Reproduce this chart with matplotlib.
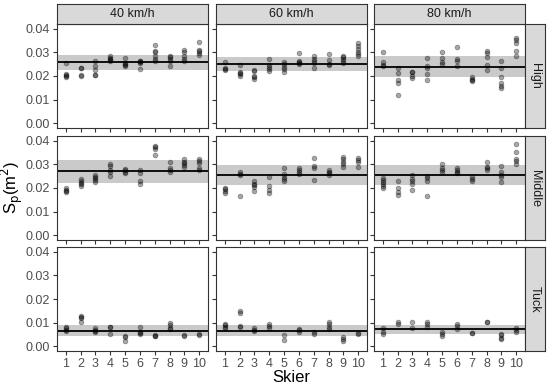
import matplotlib
matplotlib.use("Agg")
import matplotlib.pyplot as plt
import numpy as np

plt.rcParams["font.family"] = ["Liberation Sans", "DejaVu Sans"]

speeds = ["40 km/h", "60 km/h", "80 km/h"]
positions = ["High", "Middle", "Tuck"]
skiers = list(range(1, 11))

# measured S_p per skier, one list per skier, per (position, speed) panel
high_40 = [[0.0256, 0.0208, 0.0203, 0.0199, 0.0195], [0.0234, 0.0232, 0.0204, 0.0199],
           [0.0265, 0.0241, 0.0225, 0.0205, 0.0203], [0.0284, 0.0278, 0.0272, 0.0266, 0.0262],
           [0.0275, 0.0255, 0.0250, 0.0246, 0.0242], [0.0265, 0.0262, 0.0258, 0.0255, 0.0230],
           [0.0333, 0.0306, 0.0303, 0.0283, 0.0273, 0.0265], [0.0285, 0.0280, 0.0274, 0.0265, 0.0243],
           [0.0312, 0.0300, 0.0284, 0.0273, 0.0262], [0.0343, 0.0312, 0.0305, 0.0298, 0.0290]]
high_60 = [[0.0260, 0.0232, 0.0229, 0.0227], [0.0247, 0.0219, 0.0213, 0.0209, 0.0201],
           [0.0225, 0.0223, 0.0201, 0.0196, 0.0188], [0.0271, 0.0247, 0.0237, 0.0230, 0.0223],
           [0.0261, 0.0252, 0.0238, 0.0229, 0.0219], [0.0297, 0.0262, 0.0259, 0.0255, 0.0252],
           [0.0283, 0.0271, 0.0262, 0.0257, 0.0236], [0.0293, 0.0266, 0.0253, 0.0248],
           [0.0287, 0.0280, 0.0271, 0.0264, 0.0257], [0.0342, 0.0328, 0.0314, 0.0304, 0.0294, 0.0286]]
high_80 = [[0.0300, 0.0259, 0.0246, 0.0241], [0.0233, 0.0212, 0.0184, 0.0170, 0.0120],
           [0.0219, 0.0215, 0.0198, 0.0193], [0.0276, 0.0241, 0.0233, 0.0209, 0.0184],
           [0.0304, 0.0276, 0.0258, 0.0252], [0.0322, 0.0272, 0.0265, 0.0244],
           [0.0195, 0.0188, 0.0181, 0.0177], [0.0308, 0.0297, 0.0280, 0.0247, 0.0226],
           [0.0264, 0.0236, 0.0195, 0.0170, 0.0158, 0.0148], [0.0360, 0.0353, 0.0342, 0.0308, 0.0283]]
middle_40 = [[0.0202, 0.0192, 0.0188, 0.0185], [0.0237, 0.0231, 0.0223, 0.0216, 0.0208],
             [0.0256, 0.0247, 0.0242, 0.0233, 0.0226], [0.0301, 0.0293, 0.0276, 0.0266, 0.0249],
             [0.0281, 0.0276, 0.0270, 0.0264], [0.0276, 0.0264, 0.0230, 0.0219],
             [0.0380, 0.0375, 0.0366, 0.0341], [0.0312, 0.0283, 0.0276, 0.0267],
             [0.0322, 0.0312, 0.0305, 0.0297, 0.0290], [0.0322, 0.0315, 0.0308, 0.0283, 0.0277]]
middle_60 = [[0.0202, 0.0195, 0.0188, 0.0178], [0.0270, 0.0261, 0.0254, 0.0164],
             [0.0228, 0.0219, 0.0212, 0.0205, 0.0188], [0.0247, 0.0209, 0.0192, 0.0177],
             [0.0287, 0.0261, 0.0247, 0.0237, 0.0228], [0.0284, 0.0276, 0.0267, 0.0259],
             [0.0326, 0.0294, 0.0287, 0.0235], [0.0277, 0.0270, 0.0263, 0.0256],
             [0.0332, 0.0322, 0.0312, 0.0304, 0.0290], [0.0326, 0.0318, 0.0311, 0.0290]]
middle_80 = [[0.0242, 0.0233, 0.0226, 0.0216, 0.0209, 0.0199], [0.0230, 0.0202, 0.0181, 0.0170],
             [0.0254, 0.0237, 0.0228, 0.0219, 0.0192], [0.0252, 0.0242, 0.0230, 0.0165],
             [0.0304, 0.0284, 0.0276, 0.0266], [0.0284, 0.0277, 0.0270, 0.0264],
             [0.0245, 0.0237, 0.0230], [0.0312, 0.0291, 0.0283, 0.0276],
             [0.0294, 0.0270, 0.0256, 0.0247, 0.0226], [0.0389, 0.0355, 0.0325, 0.0315, 0.0304]]
tuck_40 = [[0.0081, 0.0076, 0.0069, 0.0065], [0.0127, 0.0122, 0.0120, 0.0103],
           [0.0077, 0.0070, 0.0064, 0.0060], [0.0081, 0.0079, 0.0050],
           [0.0043, 0.0037, 0.0022], [0.0081, 0.0058, 0.0055, 0.0052],
           [0.0049, 0.0044, 0.0041], [0.0097, 0.0090, 0.0078, 0.0071],
           [0.0046, 0.0043], [0.0050, 0.0048]]
tuck_60 = [[0.0095, 0.0088, 0.0079, 0.0076], [0.0151, 0.0141, 0.0087, 0.0082],
           [0.0075, 0.0070, 0.0063], [0.0095, 0.0087, 0.0077],
           [0.0045, 0.0024], [0.0074, 0.0067, 0.0060],
           [0.0059, 0.0050], [0.0101, 0.0092, 0.0081, 0.0073],
           [0.0039, 0.0031, 0.0021], [0.0056, 0.0050]]
tuck_80 = [[0.0075, 0.0061, 0.0053], [0.0101, 0.0092],
           [0.0102, 0.0077], [0.0102, 0.0094, 0.0081],
           [0.0059, 0.0050, 0.0042], [0.0095, 0.0085, 0.0073],
           [0.0054, 0.0055], [0.0102, 0.0101],
           [0.0053, 0.0045, 0.0035, 0.0029], [0.0077, 0.0067, 0.0059]]

panels = [[high_40, high_60, high_80],
          [middle_40, middle_60, middle_80],
          [tuck_40, tuck_60, tuck_80]]

# mean line and shaded band (lower, upper) per panel
means = [[0.0260, 0.0252, 0.0240],
         [0.0271, 0.0256, 0.0256],
         [0.0064, 0.0064, 0.0071]]
band_lo = [[0.0226, 0.0222, 0.0194],
           [0.0220, 0.0213, 0.0213],
           [0.0042, 0.0042, 0.0050]]
band_hi = [[0.0290, 0.0280, 0.0286],
           [0.0318, 0.0297, 0.0297],
           [0.0088, 0.0088, 0.0091]]

yticks = [0.00, 0.01, 0.02, 0.03, 0.04]

W, H = 550, 387
fig = plt.figure(figsize=(W / 100, H / 100), dpi=100)

col_left = [57, 216, 374]
pw = 151
row_top = [24, 136, 247]
ph = 104
strip_h = 20
strip_w = 20
edge = "#333333"
strip_fill = "#D9D9D9"


def fx(px):
    return px / W


def fy(py):
    return 1 - py / H


def strip(rect, label, rot):
    sax = fig.add_axes(rect)
    sax.set_facecolor(strip_fill)
    sax.set_xticks([])
    sax.set_yticks([])
    for sp in sax.spines.values():
        sp.set_color(edge)
        sp.set_linewidth(0.8)
    sax.text(0.5, 0.5, label, ha="center", va="center", rotation=rot,
             fontsize=9, color="#1A1A1A", transform=sax.transAxes)


for r in range(3):
    for c in range(3):
        ax = fig.add_axes([fx(col_left[c]), fy(row_top[r] + ph), fx(pw), ph / H])
        ax.axhspan(band_lo[r][c], band_hi[r][c], color="#CACACA", lw=0, zorder=1)
        ax.axhline(means[r][c], color="black", lw=1.3, zorder=2)
        for s, vals in zip(skiers, panels[r][c]):
            ax.scatter([s] * len(vals), vals, s=12, color="black", alpha=0.35,
                       linewidths=0.5, zorder=3)
        ax.set_xlim(0.4, 10.6)
        ax.set_ylim(-0.0021, 0.0421)
        ax.set_xticks(skiers)
        ax.set_yticks(yticks)
        for sp in ax.spines.values():
            sp.set_color(edge)
            sp.set_linewidth(0.8)
        ax.tick_params(colors=edge, labelcolor="#4D4D4D", labelsize=9,
                       length=3, width=0.8, pad=2)
        if c == 0:
            ax.set_yticklabels([f"{t:.2f}" for t in yticks])
        else:
            ax.tick_params(axis="y", labelleft=False)
        if r == 2:
            ax.set_xticklabels([str(s) for s in skiers])
        else:
            ax.tick_params(axis="x", labelbottom=False)

        if r == 0:
            strip([fx(col_left[c]), fy(row_top[r]), fx(pw), strip_h / H], speeds[c], 0)
        if c == 2:
            strip([fx(col_left[c] + pw), fy(row_top[r] + ph), fx(strip_w), ph / H],
                  positions[r], -90)

fig.text(fx(291), fy(377), "Skier", ha="center", va="center", fontsize=12)
fig.text(fx(12), fy(187), r"S$_\mathrm{p}$(m$^2$)", ha="center", va="center",
         rotation=90, fontsize=12)

fig.savefig("out.png", dpi=100)
